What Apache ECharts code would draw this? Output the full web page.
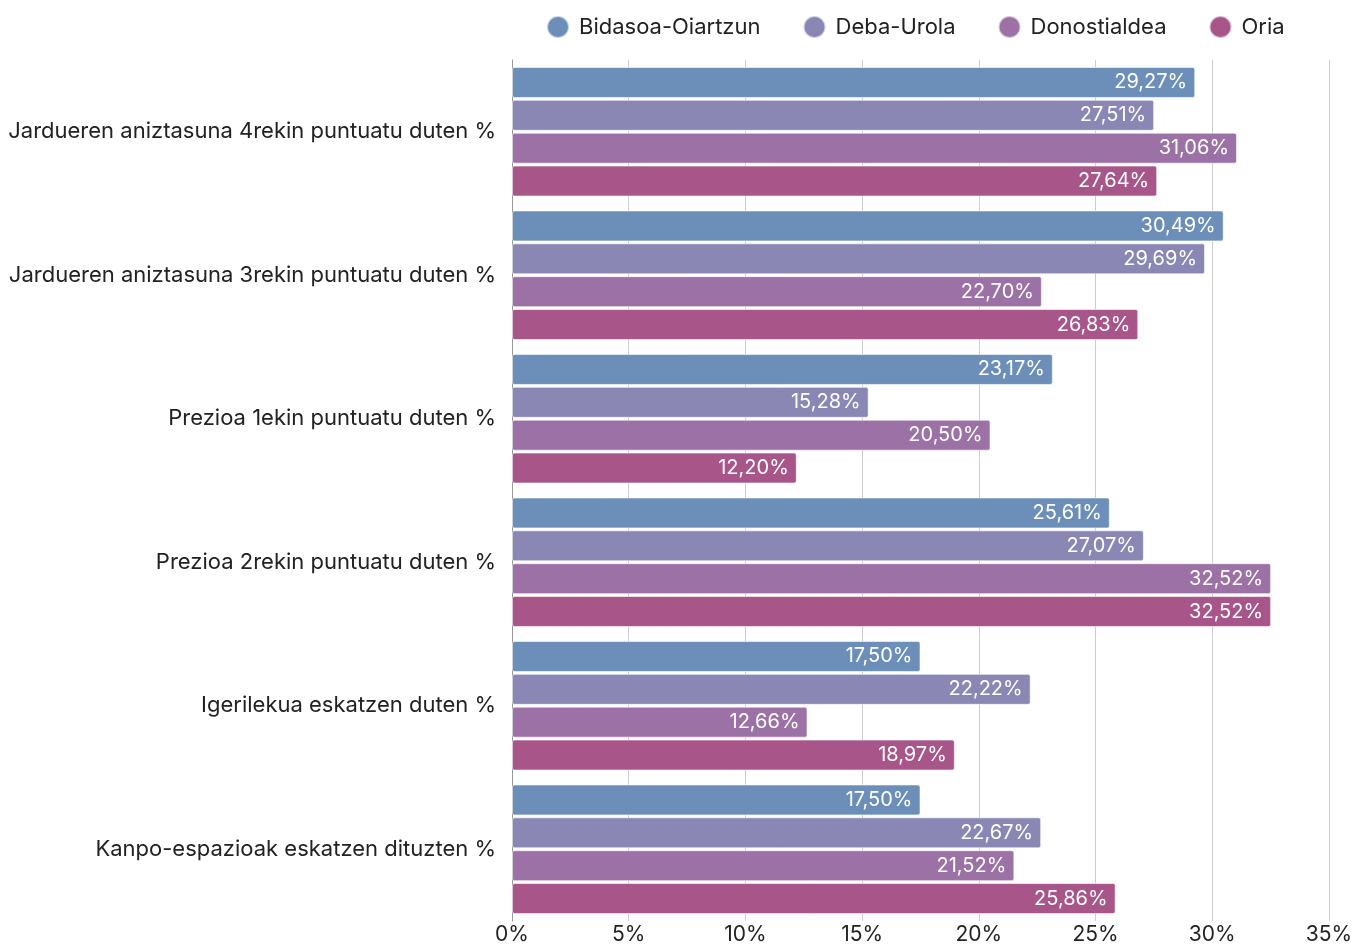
<!DOCTYPE html>
<html>
<head>
<meta charset="utf-8">
<script src="https://cdn.jsdelivr.net/npm/echarts@6/dist/echarts.min.js"></script>
<style>
  html, body { margin: 0; padding: 0; background: #fff; }
  #chart { width: 1354px; height: 945px; }
</style>
</head>
<body>
<div id="chart"></div>
<script>
const categories = [
  'Jardueren aniztasuna 4rekin puntuatu duten %',
  'Jardueren aniztasuna 3rekin puntuatu duten %',
  'Prezioa 1ekin puntuatu duten %',
  'Prezioa 2rekin puntuatu duten %',
  'Igerilekua eskatzen duten %',
  'Kanpo-espazioak eskatzen dituzten %'
];
const seriesNames = ['Bidasoa-Oiartzun', 'Deba-Urola', 'Donostialdea', 'Oria'];
const bidasoa = [29.27, 30.49, 23.17, 25.61, 17.50, 17.50];
const debaUrola = [27.51, 29.69, 15.28, 27.07, 22.22, 22.67];
const donostialdea = [31.06, 22.70, 20.50, 32.52, 12.66, 21.52];
const oria = [27.64, 26.83, 12.20, 32.52, 18.97, 25.86];
const colors = ['#6b8fb8', '#8b87b5', '#9c72a6', '#a8558a'];

const FONT = 'Inter, "DejaVu Sans", sans-serif';
const chart = echarts.init(document.getElementById('chart'));

const fmt = v => v.toFixed(2).replace('.', ',') + '%';

const series = [bidasoa, debaUrola, donostialdea, oria].map((data, i) => ({
  name: seriesNames[i],
  type: 'bar',
  data: data,
  barWidth: 31,
  barGap: '6%',
  itemStyle: {
    color: colors[i],
    borderColor: 'rgba(255,255,255,0.6)',
    borderWidth: 1,
    borderRadius: 2
  },
  label: {
    show: true,
    position: 'insideRight',
    distance: 8,
    color: '#fff',
    fontFamily: FONT,
    fontSize: 20,
    formatter: p => fmt(p.value)
  }
}));

chart.setOption({
  animation: false,
  color: colors,
  legend: {
    top: 10,
    left: 541,
    icon: 'circle',
    itemWidth: 32,
    itemHeight: 22,
    itemGap: 42,
    textStyle: { fontFamily: FONT, fontSize: 22, color: '#222' },
    data: seriesNames
  },
  grid: { left: 512, right: 25, top: 60, bottom: 24, outerBoundsMode: 'none' },
  xAxis: {
    type: 'value',
    min: 0,
    max: 35,
    interval: 5,
    axisLabel: { formatter: '{value}%', fontFamily: FONT, fontSize: 21, color: '#222', margin: 3 },
    splitLine: { lineStyle: { color: '#cccccc', width: 1 } },
    axisLine: { show: false },
    axisTick: { show: false }
  },
  yAxis: {
    type: 'category',
    data: categories,
    inverse: true,
    axisLine: { show: true, lineStyle: { color: '#999', width: 1 } },
    axisTick: { show: false },
    axisLabel: { fontFamily: FONT, fontSize: 22, color: '#222', margin: 16 }
  },
  series: series
});
</script>
</body>
</html>
